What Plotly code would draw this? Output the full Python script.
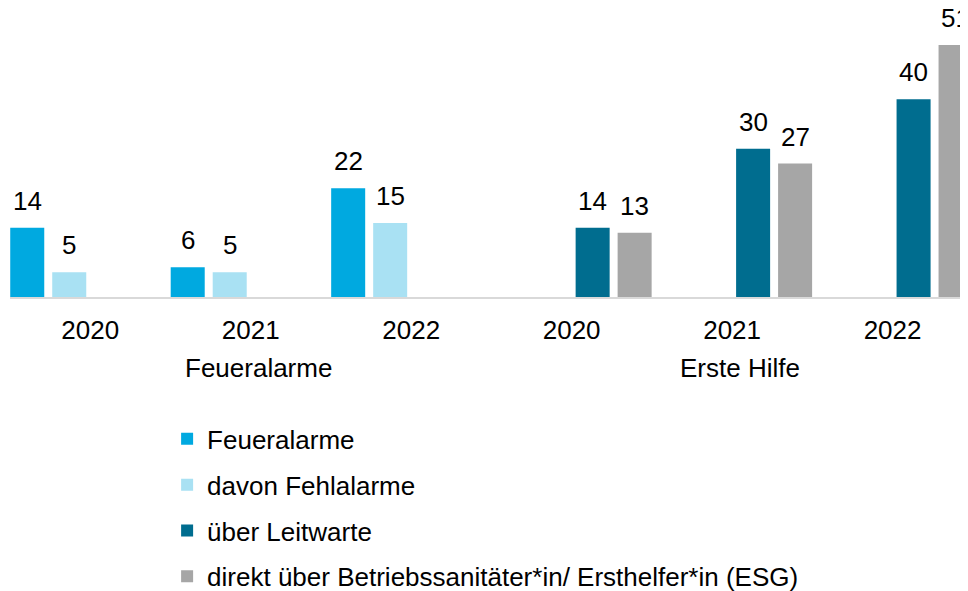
import plotly.graph_objects as go

# chart data
groups = ["Feueralarme", "Erste Hilfe"]
years = ["2020", "2021", "2022", "2020", "2021", "2022"]
group_of = [0, 0, 0, 1, 1, 1]   # which group each year column belongs to

feueralarme = [14, 6, 22, None, None, None]
fehlalarme = [5, 5, 15, None, None, None]
leitwarte = [None, None, None, 14, 30, 40]
direkt = [None, None, None, 13, 27, 51]

series = [
    ("Feueralarme", feueralarme, "#00a9e0"),
    ("davon Fehlalarme", fehlalarme, "#a9e1f3"),
    ("über Leitwarte", leitwarte, "#006d8f"),
    ("direkt über Betriebssanitäter*in/ Ersthelfer*in (ESG)", direkt, "#a6a6a6"),
]

FONT = "Arial, Liberation Sans, sans-serif"
FS = 26
SLOT = 0.2617   # width of one series slot, in category units
BAR = 0.212     # bar width

pos = list(range(len(years)))

fig = go.Figure()
annotations = []
for k, (name, vals, color) in enumerate(series):
    center = (k - 1.5) * SLOT
    fig.add_trace(go.Bar(
        x=pos,
        y=vals,
        name=name,
        legendgroup=name,
        marker_color=color,
        marker_line_width=0,
        width=BAR,
        offset=center - BAR / 2,
    ))
    # value labels above the bars
    for i, v in enumerate(vals):
        if v is None:
            continue
        annotations.append(dict(
            x=pos[i] + center, y=v, xref="x", yref="y",
            text=str(v), showarrow=False,
            yanchor="bottom", yshift=10,
            font=dict(family=FONT, size=FS, color="#000000"),
        ))

# second row of axis labels: the group names, centred under their years
for g, gname in enumerate(groups):
    members = [p for p, gi in zip(pos, group_of) if gi == g]
    annotations.append(dict(
        x=sum(members) / len(members), y=0, xref="x", yref="y",
        text=gname, showarrow=False,
        yanchor="middle", yshift=-71, xshift=8,
        font=dict(family=FONT, size=FS, color="#000000"),
    ))

# page body has an 8px margin, so the figure is 8px smaller than the window
fig.update_layout(
    width=960, height=583,
    margin=dict(l=2, r=0, t=37, b=294, autoexpand=False),
    paper_bgcolor="white", plot_bgcolor="white",
    font=dict(family=FONT, size=FS, color="#000000"),
    barmode="overlay",
    showlegend=True,
    legend=dict(
        x=0.164, y=-0.47, xanchor="left", yanchor="top",
        orientation="v", traceorder="grouped",
        tracegroupgap=9,
        font=dict(family=FONT, size=FS, color="#000000"),
    ),
    annotations=annotations,
)
fig.update_xaxes(
    range=[-0.5, 5.47],
    tickmode="array", tickvals=pos, ticktext=years,
    showline=True, linecolor="#d9d9d9", linewidth=2,
    showgrid=False, zeroline=False, ticks="", ticklabelstandoff=9,
    tickfont=dict(family=FONT, size=FS, color="#000000"),
)
fig.update_yaxes(range=[0, 51], visible=False, showgrid=False)

fig.write_html("out.html")
